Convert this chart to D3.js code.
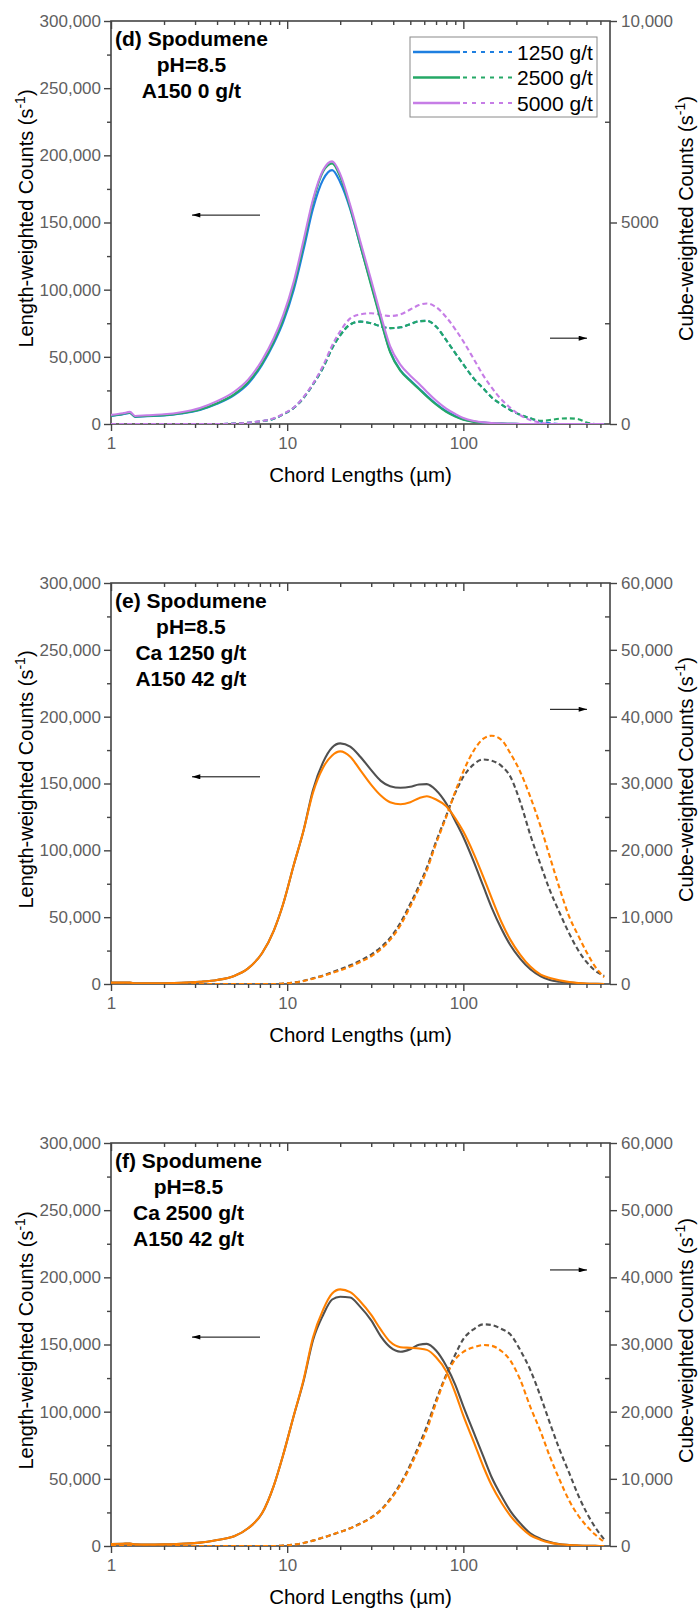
<!DOCTYPE html>
<html>
<head>
<meta charset="utf-8">
<script src="https://cdn.jsdelivr.net/npm/d3@7"></script>
<style>
  body { margin: 0; background: #fff; }
  svg { display: block; }
  text { font-family: "Liberation Sans", Arial, Helvetica, sans-serif; }
</style>
</head>
<body>
<svg id="chart" width="699" height="1609"></svg>
<script>
// ---- Chord length channels (µm) shared by every series ----
const chordLengths = [1, 1.17, 1.28, 1.37, 1.6, 2, 2.5, 3.2, 4, 5, 6, 7.2, 8.4, 9.5, 10.9,
  12.4, 14, 16, 18, 20, 22.8, 26, 30, 34, 38.4, 44, 50, 56, 62, 70, 80, 90, 100, 115, 130,
  145, 165, 185, 210, 240, 275, 310, 350, 400, 450, 500, 560, 630];

// ---- (d) Spodumene, pH 8.5, A150 0 g/t : length-weighted counts (s^-1) ----
const lenD1250 = [6000,7300,8300,5300,5800, 6300,7800,10500,15000,21500, 30000,44000,60000,76000,100000,
  130000,160000,182000,189000,180000, 160000,133000,104000,78000,54000, 40000,32500,26500,21000,15000,
  9500,6000,3500,1800,1000, 600,300,150,50,0, 0,0,0,0,0, 0,0,0];
const lenD2500 = [6200,7500,8500,5500,6000, 6500,8000,10800,15500,22000, 31000,45000,61500,78000,103000,
  134000,165000,188000,194000,184000, 161000,133000,103000,77000,53500, 39500,32000,26000,20500,14500,
  9000,5500,3200,1600,900, 500,250,100,0,0, 0,0,0,0,0, 0,0,0];
const lenD5000 = [6800,8000,9000,6000,6500, 7200,8800,12000,17000,24000, 33000,47500,64000,81000,106000,
  137000,167000,189000,195500,186000, 163000,136000,107000,81000,58000, 44000,36000,30000,24000,17500,
  11500,7500,4500,2300,1200, 700,350,150,50,0, 0,0,0,0,0, 0,0,0];
// cube-weighted counts (s^-1)
const cubeD1250 = [0,0,0,0,0, 0,0,0,0,10, 30,70,130,240,400, 650,980,1400,1880,2200,
  2470,2540,2500,2420,2380, 2400,2480,2550,2560,2420, 2080,1760,1480,1120,880,
  660,480,345,230,140, 60,20,0,0,0, 0,0,0];
const cubeD2500 = [0,0,0,0,0, 0,0,0,0,10, 30,70,130,240,400, 650,980,1400,1880,2200,
  2470,2540,2500,2420,2380, 2400,2480,2550,2560,2420, 2080,1760,1480,1120,880,
  660,480,345,230,140, 80,100,130,140,120, 40,0,0];
const cubeD5000 = [0,0,0,0,0, 0,0,0,0,10, 30,75,140,250,410, 670,1000,1450,1950,2300,
  2620,2720,2750,2710,2680, 2720,2840,2950,2990,2900, 2650,2350,2050,1600,1200,
  900,600,400,220,100, 30,0,0,0,0, 0,0,0];

// ---- (e) Spodumene, pH 8.5, Ca 1250 g/t, A150 42 g/t ----
const lenEGrey = [1000,1000,1000,600,500, 600,900,1700,3000,6000, 11700,23000,40000,60000,89000,
  115000,145000,166000,177000,180000, 177500,170000,160000,152000,148000, 146800,147500,149200,149500,145000,
  135000,122000,110000,91000,73000, 57000,41000,29000,19000,11000, 5800,3000,1800,1000,500, 200,100,0];
const lenEOrange = [1000,1000,1000,600,500, 600,900,1700,3000,6000, 11700,23000,40000,60000,89000,
  115000,143000,162000,171000,174000, 170000,160000,149000,141000,136000, 134500,136000,139000,140500,138000,
  133000,124000,114000,97000,80000, 64000,46000,33000,22000,13000, 7000,4500,2800,1500,700, 300,100,0];
const cubeEGrey = [0,0,0,0,0, 0,0,0,0,0, 0,0,0,50,220, 480,850,1280,1750,2200,
  2800,3500,4400,5500,6900, 9200,12000,14700,17400,21300, 25200,28600,31000,32900,33600,
  33400,32600,31000,27300,22300, 17800,14000,10800,7500,5000, 3300,2000,1200];
const cubeEOrange = [0,0,0,0,0, 0,0,0,0,0, 0,0,0,50,200, 450,800,1200,1650,2050,
  2600,3300,4150,5200,6600, 8800,11600,14300,17000,21000, 25000,28800,31800,35000,36700,
  37150,36500,34500,31800,28000, 23500,19000,14500,10000,7200, 4800,2600,1000];

// ---- (f) Spodumene, pH 8.5, Ca 2500 g/t, A150 42 g/t ----
const lenFGrey = [1500,1700,1800,1200,1000, 1200,1700,2500,4500,7200, 13200,24300,45000,68000,97000,
  123000,153000,172000,183500,185600, 185000,178000,168000,156000,148000, 144600,146500,149800,150500,145500,
  134000,120000,104000,84000,66500, 51000,37000,26000,17000,9500, 5300,3000,1500,800,400, 200,100,0];
const lenFOrange = [1500,1700,1800,1200,1000, 1200,1700,2500,4500,7200, 13200,24300,45000,68000,97000,
  124000,155000,176000,188000,191000, 189000,182000,172000,161000,152000, 148000,147500,147000,146000,140500,
  130000,114000,97000,77000,59000, 45000,32000,22500,14500,8000, 4500,2500,1300,700,400, 200,100,0];
const cubeFGrey = [0,0,0,0,0, 0,0,0,0,0, 0,0,0,50,200, 450,800,1250,1700,2100,
  2650,3350,4250,5400,7000, 9300,12100,15000,17800,21700, 25500,28500,30800,32300,33000,
  32900,32300,31500,29200,26200, 22200,18300,14500,10800,7500, 5000,2800,1000];
const cubeFOrange = [0,0,0,0,0, 0,0,0,0,0, 0,0,0,50,200, 450,800,1250,1700,2100,
  2630,3300,4200,5300,6850, 9100,11800,14600,17300,21300, 25300,27800,28900,29600,29930,
  29800,29000,27600,24800,20700, 17000,13300,10000,6700,4500, 3000,1700,600];

// ---- Axis ticks and labels ----
const xMajorTicks = [1, 10, 100];
const xMinorTicks = [2,3,4,5,6,7,8,9, 20,30,40,50,60,70,80,90, 200,300,400,500,600];
const leftMajorTicks = [0, 50000, 100000, 150000, 200000, 250000, 300000];
const leftMinorTicks = [25000, 75000, 125000, 175000, 225000, 275000];
const rightMajorTicksD = [0, 5000, 10000];
const rightLabelsD = ["0", "5000", "10,000"];
const rightMinorTicksD = [2500, 7500];
const rightMajorTicksEF = [0, 10000, 20000, 30000, 40000, 50000, 60000];
const rightMinorTicksEF = [5000, 15000, 25000, 35000, 45000, 55000];

const dosageLabels = ["1250 g/t", "2500 g/t", "5000 g/t"];
const COLORS = { blue: "#1e7fe0", green: "#25a866", violet: "#c67de6", grey: "#505050", orange: "#ff8000" };

const svg = d3.select("#chart");
svg.append("rect").attr("width", 699).attr("height", 1609).attr("fill", "#fff");

const defs = svg.append("defs");
defs.append("marker").attr("id", "arrowhead")
  .attr("viewBox", "0 0 10 6").attr("refX", 10).attr("refY", 3)
  .attr("markerWidth", 10).attr("markerHeight", 5)
  .attr("markerUnits", "userSpaceOnUse").attr("orient", "auto")
  .append("path").attr("d", "M0,0L10,3L0,6Z").attr("fill", "#000");

const PLOT_LEFT = 111, PLOT_RIGHT = 610;
const x = d3.scaleLog().domain([1, 680]).range([PLOT_LEFT, PLOT_RIGHT]);

const AXIS_COLOR = "#444";
const LABEL_COLOR = "#5f5f5f";

function styleAxis(sel) {
  sel.select(".domain").remove();
  sel.selectAll(".tick line").attr("stroke", AXIS_COLOR).attr("stroke-width", 1.4);
  sel.selectAll(".tick text").attr("fill", LABEL_COLOR).attr("font-size", "17px")
    .attr("font-family", "'Liberation Sans', Arial, sans-serif");
}

function drawPanel(cfg) {
  const g = svg.append("g");
  const top = cfg.top, bottom = cfg.bottom;
  const yL = d3.scaleLinear().domain([0, 300000]).range([bottom, top]);
  const yR = d3.scaleLinear().domain([0, cfg.rightMax]).range([bottom, top]);

  defs.append("clipPath").attr("id", "clip-" + cfg.id)
    .append("rect").attr("x", PLOT_LEFT).attr("y", top - 2)
    .attr("width", PLOT_RIGHT - PLOT_LEFT).attr("height", bottom - top + 2);

  // bottom axis (outward ticks, labelled decades)
  g.append("g").attr("transform", `translate(0,${bottom})`)
    .call(d3.axisBottom(x).tickValues(xMajorTicks).tickSize(7).tickSizeOuter(0).tickPadding(6)
      .tickFormat(d3.format("d")))
    .call(styleAxis);
  g.append("g").attr("transform", `translate(0,${bottom})`)
    .call(d3.axisBottom(x).tickValues(xMinorTicks).tickSize(4).tickSizeOuter(0).tickFormat(""))
    .call(styleAxis);
  // top axis (inward ticks)
  g.append("g").attr("transform", `translate(0,${top})`)
    .call(d3.axisTop(x).tickValues(xMajorTicks).tickSize(-8).tickSizeOuter(0).tickFormat(""))
    .call(styleAxis);
  g.append("g").attr("transform", `translate(0,${top})`)
    .call(d3.axisTop(x).tickValues(xMinorTicks).tickSize(-4).tickSizeOuter(0).tickFormat(""))
    .call(styleAxis);
  // left axis
  g.append("g").attr("transform", `translate(${PLOT_LEFT},0)`)
    .call(d3.axisLeft(yL).tickValues(leftMajorTicks).tickSize(7).tickSizeOuter(0).tickPadding(3)
      .tickFormat(d3.format(",")))
    .call(styleAxis);
  g.append("g").attr("transform", `translate(${PLOT_LEFT},0)`)
    .call(d3.axisLeft(yL).tickValues(leftMinorTicks).tickSize(4).tickSizeOuter(0).tickFormat(""))
    .call(styleAxis);
  // right axis
  g.append("g").attr("transform", `translate(${PLOT_RIGHT},0)`)
    .call(d3.axisRight(yR).tickValues(cfg.rightMajor).tickSize(7).tickSizeOuter(0).tickPadding(4)
      .tickFormat(cfg.rightFormat))
    .call(styleAxis);
  g.append("g").attr("transform", `translate(${PLOT_RIGHT},0)`)
    .call(d3.axisRight(yR).tickValues(cfg.rightMinor).tickSize(-5).tickSizeOuter(0).tickFormat(""))
    .call(styleAxis);

  // frame
  g.append("rect").attr("x", PLOT_LEFT).attr("y", top)
    .attr("width", PLOT_RIGHT - PLOT_LEFT).attr("height", bottom - top)
    .attr("fill", "none").attr("stroke", AXIS_COLOR).attr("stroke-width", 1.6);

  // curves
  const plot = g.append("g").attr("clip-path", `url(#clip-${cfg.id})`);
  const mk = yScale => d3.line().x((d, i) => x(chordLengths[i])).y(d => yScale(d)).curve(d3.curveMonotoneX);
  cfg.cube.forEach(s => {
    plot.append("path").datum(s.values).attr("d", mk(yR))
      .attr("fill", "none").attr("stroke", s.color).attr("stroke-width", 2.1)
      .attr("stroke-dasharray", "5,3");
  });
  cfg.len.forEach(s => {
    plot.append("path").datum(s.values).attr("d", mk(yL))
      .attr("fill", "none").attr("stroke", s.color).attr("stroke-width", 2.1);
  });

  // direction arrows
  g.append("line").attr("x1", 260).attr("x2", 192)
    .attr("y1", yL(cfg.leftArrowAt)).attr("y2", yL(cfg.leftArrowAt))
    .attr("stroke", "#000").attr("stroke-width", 1).attr("marker-end", "url(#arrowhead)");
  g.append("line").attr("x1", 550).attr("x2", 587)
    .attr("y1", yR(cfg.rightArrowAt)).attr("y2", yR(cfg.rightArrowAt))
    .attr("stroke", "#000").attr("stroke-width", 1).attr("marker-end", "url(#arrowhead)");

  // annotation block
  const ann = g.append("g");
  const first = ann.append("text").attr("x", 115).attr("y", top + 25)
    .attr("font-size", "21px").attr("font-weight", "bold").attr("fill", "#000")
    .text(cfg.notes[0]);
  const cx = 115 + first.node().getComputedTextLength() / 2;
  first.attr("x", cx).attr("text-anchor", "middle");
  cfg.notes.slice(1).forEach((t, i) => {
    ann.append("text").attr("x", cx).attr("y", top + 25 + 26 * (i + 1))
      .attr("text-anchor", "middle").attr("font-size", "21px").attr("font-weight", "bold")
      .attr("fill", "#000").text(t);
  });

  // axis titles
  const midY = (top + bottom) / 2;
  const lt = g.append("text").attr("transform", `translate(33,${midY - 4}) rotate(-90)`)
    .attr("text-anchor", "middle").attr("font-size", "20px").attr("fill", "#000");
  lt.append("tspan").text("Length-weighted Counts (s");
  lt.append("tspan").attr("font-size", "14px").attr("dy", -8).text("-1");
  lt.append("tspan").attr("dy", 8).text(")");
  const rt = g.append("text").attr("transform", `translate(693,${midY - 4}) rotate(-90)`)
    .attr("text-anchor", "middle").attr("font-size", "20px").attr("fill", "#000");
  rt.append("tspan").text("Cube-weighted Counts (s");
  rt.append("tspan").attr("font-size", "14px").attr("dy", -8).text("-1");
  rt.append("tspan").attr("dy", 8).text(")");
  g.append("text").attr("x", (PLOT_LEFT + PLOT_RIGHT) / 2).attr("y", bottom + 58)
    .attr("text-anchor", "middle").attr("font-size", "20.5px").attr("fill", "#000")
    .text("Chord Lengths (µm)");

  if (cfg.legend) {
    const lg = g.append("g");
    lg.append("rect").attr("x", 410).attr("y", top + 16).attr("width", 187).attr("height", 80)
      .attr("fill", "#fff").attr("stroke", "#8a8a8a").attr("stroke-width", 1);
    cfg.len.forEach((s, i) => {
      const yy = top + 31 + i * 25.5;
      lg.append("line").attr("x1", 413).attr("x2", 460).attr("y1", yy).attr("y2", yy)
        .attr("stroke", s.color).attr("stroke-width", 2.4);
      lg.append("line").attr("x1", 463).attr("x2", 513).attr("y1", yy).attr("y2", yy)
        .attr("stroke", s.color).attr("stroke-width", 2).attr("stroke-dasharray", "4,5");
      lg.append("text").attr("x", 517).attr("y", yy + 7.5).attr("font-size", "21px")
        .attr("fill", "#000").text(dosageLabels[i]);
    });
  }
}

drawPanel({
  id: "d", top: 21, bottom: 424, rightMax: 10000,
  rightMajor: rightMajorTicksD, rightMinor: rightMinorTicksD,
  rightFormat: (d, i) => rightLabelsD[i],
  len: [{ values: lenD1250, color: COLORS.blue }, { values: lenD2500, color: COLORS.green }, { values: lenD5000, color: COLORS.violet }],
  cube: [{ values: cubeD1250, color: COLORS.blue }, { values: cubeD2500, color: COLORS.green }, { values: cubeD5000, color: COLORS.violet }],
  leftArrowAt: 155500, rightArrowAt: 2130,
  notes: ["(d) Spodumene", "pH=8.5", "A150 0 g/t"], legend: true
});
drawPanel({
  id: "e", top: 583, bottom: 984, rightMax: 60000,
  rightMajor: rightMajorTicksEF, rightMinor: rightMinorTicksEF,
  rightFormat: d3.format(","),
  len: [{ values: lenEGrey, color: COLORS.grey }, { values: lenEOrange, color: COLORS.orange }],
  cube: [{ values: cubeEGrey, color: COLORS.grey }, { values: cubeEOrange, color: COLORS.orange }],
  leftArrowAt: 155000, rightArrowAt: 41100,
  notes: ["(e) Spodumene", "pH=8.5", "Ca 1250 g/t", "A150 42 g/t"], legend: false
});
drawPanel({
  id: "f", top: 1143, bottom: 1546, rightMax: 60000,
  rightMajor: rightMajorTicksEF, rightMinor: rightMinorTicksEF,
  rightFormat: d3.format(","),
  len: [{ values: lenFGrey, color: COLORS.grey }, { values: lenFOrange, color: COLORS.orange }],
  cube: [{ values: cubeFGrey, color: COLORS.grey }, { values: cubeFOrange, color: COLORS.orange }],
  leftArrowAt: 155500, rightArrowAt: 41100,
  notes: ["(f) Spodumene", "pH=8.5", "Ca 2500 g/t", "A150 42 g/t"], legend: false
});
</script>
</body>
</html>
